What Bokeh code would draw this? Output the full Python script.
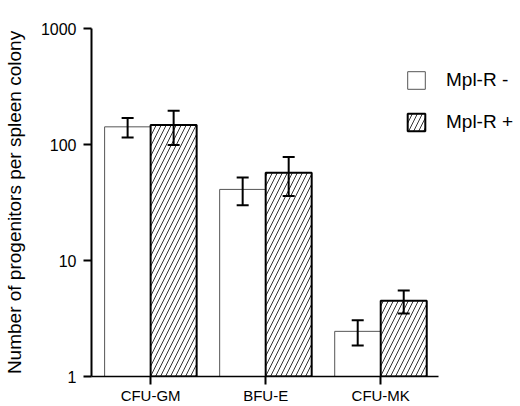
from bokeh.plotting import figure
from bokeh.models import (ColumnDataSource, Whisker, TeeHead, FixedTicker,
                          Range1d, Legend, LegendItem)
from bokeh.embed import file_html
from bokeh.resources import INLINE

categories = ["CFU-GM", "BFU-E", "CFU-MK"]
mpl_neg = [142, 41, 2.45]
mpl_neg_err = [27, 11, 0.6]
mpl_pos = [147, 57, 4.5]
mpl_pos_err = [48, 21, 1.0]
y_ticks = [1, 10, 100, 1000]
series_labels = ["Mpl-R -", "Mpl-R +"]

FONT = "Liberation Sans"
bw = 0.4
idx = list(range(len(categories)))

# x extent of the plotting frame and of the drawn x axis line
X_START, X_END, X_AXIS_END = -0.514, 3.215, 2.503

neg_src = ColumnDataSource(dict(
    x=[i - bw / 2 for i in idx], top=mpl_neg,
    upper=[v + e for v, e in zip(mpl_neg, mpl_neg_err)],
    lower=[v - e for v, e in zip(mpl_neg, mpl_neg_err)]))
pos_src = ColumnDataSource(dict(
    x=[i + bw / 2 for i in idx], top=mpl_pos,
    upper=[v + e for v, e in zip(mpl_pos, mpl_pos_err)],
    lower=[v - e for v, e in zip(mpl_pos, mpl_pos_err)]))

p = figure(width=520, height=406, y_axis_type="log",
           x_range=Range1d(X_START, X_END), y_range=Range1d(1, 1000),
           output_backend="svg", toolbar_location=None,
           min_border_left=90, min_border_right=0,
           min_border_top=28, min_border_bottom=29)
p.outline_line_color = None
p.xgrid.visible = False
p.ygrid.visible = False
p.background_fill_color = "white"

r_neg = p.vbar(x="x", top="top", bottom=1, width=bw, source=neg_src,
               fill_color="white", line_color="#555555", line_width=1)
r_pos = p.vbar(x="x", top="top", bottom=1, width=bw, source=pos_src,
               fill_color="white", line_color="black", line_width=2,
               hatch_pattern="/", hatch_color="#333333", hatch_weight=1,
               hatch_scale=10)

for src in (neg_src, pos_src):
    w = Whisker(base="x", upper="upper", lower="lower", source=src,
                line_color="black", line_width=2, level="annotation",
                upper_head=TeeHead(size=12, line_width=2, line_color="black"),
                lower_head=TeeHead(size=12, line_width=2, line_color="black"))
    p.add_layout(w)

# x axis
xa = p.xaxis[0]
xa.bounds = (X_START, X_AXIS_END)
xa.ticker = FixedTicker(ticks=idx)
xa.major_label_overrides = {i: c for i, c in zip(idx, categories)}
xa.minor_tick_line_color = None
xa.major_tick_out = 8
xa.major_tick_in = 0
xa.major_tick_line_width = 2
xa.axis_line_width = 1.5
xa.major_label_text_font = FONT
xa.major_label_text_font_size = "15px"
xa.major_label_text_color = "black"
xa.major_label_standoff = 2

# y axis
ya = p.yaxis[0]
ya.ticker = FixedTicker(ticks=y_ticks)
ya.major_label_overrides = {t: str(t) for t in y_ticks}
ya.minor_tick_line_color = None
ya.major_tick_out = 8
ya.major_tick_in = 0
ya.major_tick_line_width = 2
ya.axis_line_width = 2
ya.major_label_text_font = FONT
ya.major_label_text_font_size = "16px"
ya.major_label_text_color = "black"
ya.major_label_standoff = 7
ya.axis_label = "Number of progenitors per spleen colony"
ya.axis_label_text_font = FONT
ya.axis_label_text_font_size = "19px"
ya.axis_label_text_font_style = "normal"
ya.axis_label_text_color = "black"
ya.axis_label_standoff = 13

legend = Legend(items=[LegendItem(label=series_labels[0], renderers=[r_neg]),
                       LegendItem(label=series_labels[1], renderers=[r_pos])],
                location=(314, 243), padding=0, margin=0,
                border_line_alpha=0, background_fill_alpha=0,
                glyph_width=22, glyph_height=22, label_height=22,
                label_standoff=19, spacing=20,
                label_text_font=FONT, label_text_font_size="19px",
                label_text_color="black")
p.add_layout(legend)

open("out.html", "w").write(file_html(p, INLINE))
